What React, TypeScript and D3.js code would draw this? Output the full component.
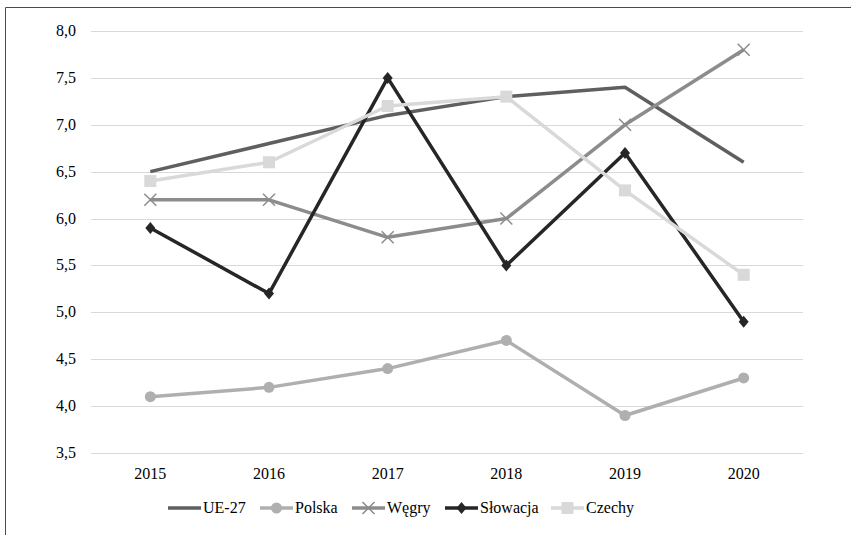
import { useEffect, useRef } from 'react';
import * as d3 from 'd3';

const years = ['2015', '2016', '2017', '2018', '2019', '2020'];
const ue27 = [6.5, 6.8, 7.1, 7.3, 7.4, 6.6];
const polska = [4.1, 4.2, 4.4, 4.7, 3.9, 4.3];
const wegry = [6.2, 6.2, 5.8, 6.0, 7.0, 7.8];
const slowacja = [5.9, 5.2, 7.5, 5.5, 6.7, 4.9];
const czechy = [6.4, 6.6, 7.2, 7.3, 6.3, 5.4];
const yTicks = [3.5, 4.0, 4.5, 5.0, 5.5, 6.0, 6.5, 7.0, 7.5, 8.0];

const series = [
  { name: 'UE-27', values: ue27, color: '#5f5f5f', marker: 'none' },
  { name: 'Polska', values: polska, color: '#afafaf', marker: 'circle' },
  { name: 'Węgry', values: wegry, color: '#8c8c8c', marker: 'cross' },
  { name: 'Słowacja', values: slowacja, color: '#262626', marker: 'diamond' },
  { name: 'Czechy', values: czechy, color: '#d9d9d9', marker: 'square' },
];

const W = 851;
const H = 535;
const font = 'Liberation Serif';

function drawMarker(g: any, kind: string, x: number, y: number, color: string) {
  if (kind === 'circle') {
    g.append('circle').attr('cx', x).attr('cy', y).attr('r', 5.5).attr('fill', color);
  } else if (kind === 'square') {
    g.append('rect').attr('x', x - 6).attr('y', y - 6).attr('width', 12).attr('height', 12).attr('fill', color);
  } else if (kind === 'diamond') {
    g.append('path')
      .attr('d', `M${x},${y - 6}L${x + 5},${y}L${x},${y + 6}L${x - 5},${y}Z`)
      .attr('fill', color);
  } else if (kind === 'cross') {
    g.append('path')
      .attr('d', `M${x - 6},${y - 6}L${x + 6},${y + 6}M${x - 6},${y + 6}L${x + 6},${y - 6}`)
      .attr('stroke', color)
      .attr('stroke-width', 1.5)
      .attr('fill', 'none');
  }
}

const App = () => {
  const svgRef = useRef<SVGSVGElement>(null);

  useEffect(() => {
    const svg = d3.select(svgRef.current);
    svg.selectAll('*').remove();

    const left = 91;
    const right = 803;
    const x = d3.scaleBand().domain(years).range([left, right]);
    const y = d3.scaleLinear().domain([3.5, 8.0]).range([453, 31]);
    const cx = (d: string) => (x(d) as number) + x.bandwidth() / 2;

    // frame
    svg.append('path')
      .attr('d', `M5.5,${H}V7.5H${W}`)
      .attr('stroke', '#4a4a4a')
      .attr('fill', 'none');

    // gridlines
    svg.append('g')
      .selectAll('line')
      .data(yTicks)
      .join('line')
      .attr('x1', left)
      .attr('x2', right)
      .attr('y1', (d) => Math.round(y(d)) + 0.5)
      .attr('y2', (d) => Math.round(y(d)) + 0.5)
      .attr('stroke', '#d9d9d9')
      .attr('stroke-width', 1);

    // y labels
    svg.append('g')
      .selectAll('text')
      .data(yTicks)
      .join('text')
      .attr('x', 76)
      .attr('y', (d) => y(d) + 5)
      .attr('text-anchor', 'end')
      .style('font-family', font)
      .attr('font-size', 16)
      .attr('fill', '#000')
      .text((d) => d.toFixed(1).replace('.', ','));

    // x labels
    svg.append('g')
      .selectAll('text')
      .data(years)
      .join('text')
      .attr('x', (d) => cx(d))
      .attr('y', 479)
      .attr('text-anchor', 'middle')
      .style('font-family', font)
      .attr('font-size', 16)
      .attr('fill', '#000')
      .text((d) => d);

    const line = d3.line<number>()
      .x((_, i) => cx(years[i]))
      .y((d) => y(d));

    series.forEach((s) => {
      const g = svg.append('g');
      g.append('path')
        .attr('d', line(s.values))
        .attr('stroke', s.color)
        .attr('stroke-width', 3.5)
        .attr('fill', 'none')
        .attr('stroke-linejoin', 'round');
      s.values.forEach((v, i) => drawMarker(g, s.marker, cx(years[i]), y(v), s.color));
    });

    // legend
    const legendX = [168, 260, 352, 445, 551];
    const ly = 508;
    series.forEach((s, i) => {
      const g = svg.append('g');
      const x0 = legendX[i];
      g.append('line')
        .attr('x1', x0)
        .attr('x2', x0 + 33)
        .attr('y1', ly)
        .attr('y2', ly)
        .attr('stroke', s.color)
        .attr('stroke-width', 3.5);
      drawMarker(g, s.marker, x0 + 16.5, ly, s.color);
      g.append('text')
        .attr('x', x0 + 35)
        .attr('y', ly + 5)
        .style('font-family', font)
        .attr('font-size', 16)
        .attr('fill', '#000')
        .text(s.name);
    });
  }, []);

  return (
    <svg
      ref={svgRef}
      width={W}
      height={H}
      style={{ position: 'absolute', left: 0, top: 0, background: '#fff' }}
    />
  );
};

export default App;
